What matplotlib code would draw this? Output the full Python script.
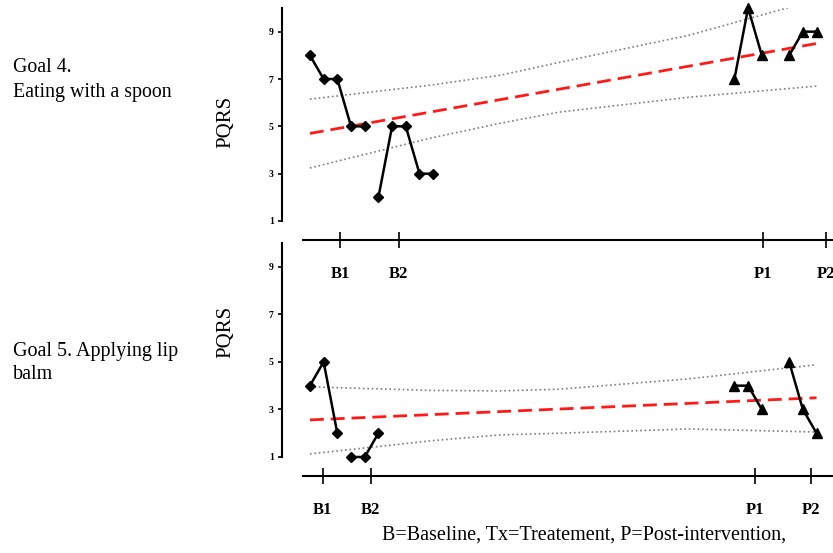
import matplotlib.pyplot as plt

plt.rcParams['font.family'] = ['Liberation Serif', 'DejaVu Serif']

# sesiones (eje x) y puntuaciones PQRS
sesiones_b1_g4 = [1, 2, 3, 4, 5]
sesiones_b2_g4 = [6, 7, 8, 9, 10]
goal4_b1 = [8, 7, 7, 5, 5]
goal4_b2 = [2, 5, 5, 3, 3]

sesiones_b1_g5 = [1, 2, 3]
sesiones_b2_g5 = [4, 5, 6]
goal5_b1 = [4, 5, 2]
goal5_b2 = [1, 1, 2]

sesiones_p1 = [32, 33, 34]
sesiones_p2 = [36, 37, 38]
goal4_p1 = [7, 10, 8]
goal4_p2 = [8, 9, 9]
goal5_p1 = [4, 4, 3]
goal5_p2 = [5, 3, 2]

# tendencia y banda de confianza
tendencia_x = [1, 38]
goal4_tendencia = [4.7, 8.5]
goal5_tendencia = [2.56, 3.49]

banda_x = [1, 9.8, 14.9, 19.2, 28.7, 38]
goal4_sup = [6.15, 6.74, 7.16, 7.7, 8.85, 10.35]
goal4_inf = [3.24, 4.5, 5.13, 5.6, 6.23, 6.7]
goal5_sup = [3.95, 3.8, 3.78, 3.85, 4.29, 4.88]
goal5_inf = [1.13, 1.68, 1.93, 2.0, 2.18, 2.05]

y_ticks = [1, 3, 5, 7, 9]
x_etiquetas = ['B1', 'B2', 'P1', 'P2']
goal4_xticks = [3.2, 7.5, 34.1, 38.7]
goal5_xticks = [1.95, 5.45, 33.5, 37.6]

W, H = 833, 553
fig = plt.figure(figsize=(W / 100, H / 100), dpi=100)


def panel(top_px, bot_px):
    ax = fig.add_axes([282 / W, 1 - bot_px / H, 1 - 282 / W, (bot_px - top_px) / H])
    ax.patch.set_visible(False)
    return ax


def dibujar(ax, b1x, b1, b2x, b2, p1, p2, tend, sup, inf, xticks):
    ax.plot(banda_x, sup, ls=':', color='#7f7f7f', lw=1.2)
    ax.plot(banda_x, inf, ls=':', color='#7f7f7f', lw=1.2)
    ax.plot(tendencia_x, tend, ls=(0, (5, 2.5)), color='#ff1a1a', lw=2.0)
    for xs, ys in [(b1x, b1), (b2x, b2)]:
        ax.plot(xs, ys, color='black', lw=1.8, marker='D', markersize=5, clip_on=False)
    for xs, ys in [(sesiones_p1, p1), (sesiones_p2, p2)]:
        ax.plot(xs, ys, color='black', lw=1.8, marker='^', markersize=7, clip_on=False)

    ax.set_xlim(-1.04, 39.2)
    ax.set_ylim(1, 10)
    for s in ['top', 'right']:
        ax.spines[s].set_visible(False)
    ax.spines['left'].set_linewidth(1.5)
    ax.spines['bottom'].set_linewidth(1.5)
    ax.spines['bottom'].set_position(('outward', 14))
    ax.spines['bottom'].set_bounds(0.5, 40)

    ax.set_yticks(y_ticks)
    ax.set_yticklabels([str(v) for v in y_ticks], fontsize=7, fontweight='bold')
    ax.tick_params(axis='y', direction='out', length=3, width=1.2, pad=3)

    ax.set_xticks(xticks)
    ax.set_xticklabels(x_etiquetas, fontsize=12, fontweight='bold')
    ax.tick_params(axis='x', direction='inout', length=11, width=1.2, pad=13)


ax1 = panel(8, 221)
dibujar(ax1, sesiones_b1_g4, goal4_b1, sesiones_b2_g4, goal4_b2, goal4_p1, goal4_p2,
        goal4_tendencia, goal4_sup, goal4_inf, goal4_xticks)

ax2 = panel(243, 457)
dibujar(ax2, sesiones_b1_g5, goal5_b1, sesiones_b2_g5, goal5_b2, goal5_p1, goal5_p2,
        goal5_tendencia, goal5_sup, goal5_inf, goal5_xticks)

fig.text(226 / W, 1 - 122 / H, 'PQRS', rotation=90, fontsize=15, ha='center', va='center')
fig.text(226 / W, 1 - 332 / H, 'PQRS', rotation=90, fontsize=15, ha='center', va='center')

fig.text(13 / W, 1 - 80 / H, 'Goal 4.\nEating with a spoon', fontsize=14.3,
         ha='left', va='center', linespacing=1.38)
fig.text(13 / W, 1 - 363 / H, 'Goal 5. Applying lip\nbalm', fontsize=14.5,
         ha='left', va='center', linespacing=1.33)
fig.text(382 / W, 1 - 535 / H, 'B=Baseline, Tx=Treatement, P=Post-intervention,',
         fontsize=14.5, ha='left', va='center')

fig.savefig('out.png', dpi=100)
